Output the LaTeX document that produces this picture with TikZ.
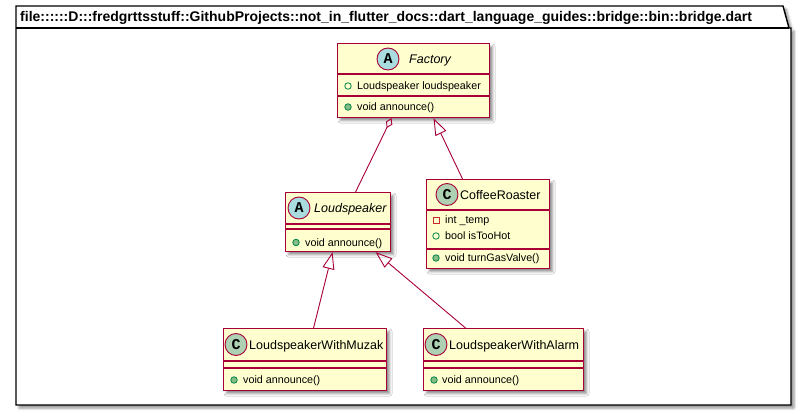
\documentclass[tikz,border=0pt]{standalone}
\usepackage{fontspec}
\setmainfont{Liberation Sans}
\newfontfamily\spotfont{Liberation Mono}
\usetikzlibrary{arrows.meta,shadows.blur}
\definecolor{umlfill}{HTML}{FEFECE}
\definecolor{umlborder}{HTML}{A80036}
\definecolor{spotC}{HTML}{ADD1B2}
\definecolor{spotA}{HTML}{A9DCDF}
\definecolor{pubstroke}{HTML}{038048}
\definecolor{pubfill}{HTML}{84BE84}
\definecolor{privstroke}{HTML}{C82930}
\tikzset{
  umlshadow/.style={blur shadow={shadow xshift=3pt,shadow yshift=-3pt,shadow blur radius=2.5pt,shadow opacity=45}},
  classbox/.style={draw=umlborder,fill=umlfill,line width=1.1pt,anchor=north west,inner sep=0,umlshadow},
  sepline/.style={draw=umlborder,line width=1.1pt},
  spotbase/.style={circle,draw=umlborder,line width=0.9pt,minimum size=22pt,inner sep=0,font=\spotfont\bfseries\fontsize{15}{15}\selectfont},
  spotabs/.style={spotbase,fill=spotA},
  spotcls/.style={spotbase,fill=spotC},
  cname/.style={anchor=base west,inner sep=0,font=\fontsize{12.5}{14}\selectfont},
  cnameabs/.style={cname,font=\itshape\fontsize{12.5}{14}\selectfont},
  mem/.style={anchor=base west,inner sep=0,font=\fontsize{10.75}{12}\selectfont},
  pubfield/.style={circle,draw=pubstroke,line width=0.8pt,minimum size=6.5pt,inner sep=0},
  pubmeth/.style={circle,draw=pubstroke,fill=pubfill,line width=0.8pt,minimum size=6.5pt,inner sep=0},
  privfield/.style={rectangle,draw=privstroke,line width=0.8pt,minimum size=6pt,inner sep=0},
  rel/.style={draw=umlborder,line width=0.9pt},
  gen/.style={rel,-{Triangle[open,length=17pt,width=12pt]}},
  agg/.style={rel,-{Diamond[open,length=11pt,width=7pt]}},
}
\begin{document}
\begin{tikzpicture}[x=1pt,y=-1pt]
\useasboundingbox (0,0) rectangle (807,412);
% package frame
\path[draw=black,fill=white,line width=1.4pt,umlshadow]
  (16,6) -- (783,6) -- (789,28) -- (791,28) -- (791,405) -- (16,405) -- cycle;
\draw[line width=1.4pt] (16,28) -- (789,28);
\node[anchor=base west,inner sep=0,font=\bfseries\fontsize{14}{16}\selectfont] (pkgtitle) at (20,22)
  {file::::::D:::fredgrttsstuff::GithubProjects::not\_in\_flutter\_docs::dart\_language\_guides::bridge::bin::bridge.dart};

% Factory
\node[classbox,minimum width=152pt,minimum height=74pt] (factory) at (337,43) {};
\draw[sepline] (337,74) -- (489,74);
\draw[sepline] (337,96) -- (489,96);
\node[spotabs] (factoryspot) at (388,59) {A};
\node[cnameabs] (factoryname) at (409,63.5) {Factory};
\node[pubfield] (factoryi1) at (348,86) {};
\node[mem] (factorym1) at (357,89.9) {Loudspeaker loudspeaker};
\node[pubmeth] (factoryi2) at (348,107) {};
\node[mem] (factorym2) at (357,110.9) {void announce()};

% Loudspeaker
\node[classbox,minimum width=105pt,minimum height=59pt] (ls) at (285,192) {};
\draw[sepline] (285,224) -- (390,224);
\draw[sepline] (285,229) -- (390,229);
\node[spotabs] (lsspot) at (299,208) {A};
\node[cnameabs] (lsname) at (314,212.5) {Loudspeaker};
\node[pubmeth] (lsi1) at (296,242.5) {};
\node[mem] (lsm1) at (305,246.4) {void announce()};

% CoffeeRoaster
\node[classbox,minimum width=123pt,minimum height=89pt] (roaster) at (426,179) {};
\draw[sepline] (426,210) -- (549,210);
\draw[sepline] (426,249) -- (549,249);
\node[spotcls] (roasterspot) at (447,194.5) {C};
\node[cname] (roastername) at (460,199) {CoffeeRoaster};
\node[privfield] (roasteri1) at (436,220) {};
\node[mem] (roasterm1) at (445,223.9) {int \_temp};
\node[pubfield] (roasteri2) at (436,236) {};
\node[mem] (roasterm2) at (445,239.9) {bool isTooHot};
\node[pubmeth] (roasteri3) at (436,258) {};
\node[mem] (roasterm3) at (445,261.9) {void turnGasValve()};

% LoudspeakerWithMuzak
\node[classbox,minimum width=163pt,minimum height=62pt] (muzak) at (223,328) {};
\draw[sepline] (223,361) -- (386,361);
\draw[sepline] (223,368) -- (386,368);
\node[spotcls] (muzakspot) at (236,344.5) {C};
\node[cname] (muzakname) at (249,349) {LoudspeakerWithMuzak};
\node[pubmeth] (muzaki1) at (234,380) {};
\node[mem] (muzakm1) at (243,383.9) {void announce()};

% LoudspeakerWithAlarm
\node[classbox,minimum width=160pt,minimum height=62pt] (alarm) at (423,328) {};
\draw[sepline] (423,361) -- (583,361);
\draw[sepline] (423,368) -- (583,368);
\node[spotcls] (alarmspot) at (436,344.5) {C};
\node[cname] (alarmname) at (449,349) {LoudspeakerWithAlarm};
\node[pubmeth] (alarmi1) at (434,380) {};
\node[mem] (alarmm1) at (442,383.9) {void announce()};

% relations
\draw[agg] ([xshift=17.5pt]ls.north) -- ([xshift=-22pt]factory.south);
\draw[gen] ([xshift=-25.5pt]roaster.north) -- ([xshift=20pt]factory.south);
\draw[gen] ([xshift=8.5pt]muzak.north) -- ([xshift=-5.5pt]ls.south);
\draw[gen] ([xshift=-38pt]alarm.north) -- ([xshift=37.5pt]ls.south);
\end{tikzpicture}
\end{document}
